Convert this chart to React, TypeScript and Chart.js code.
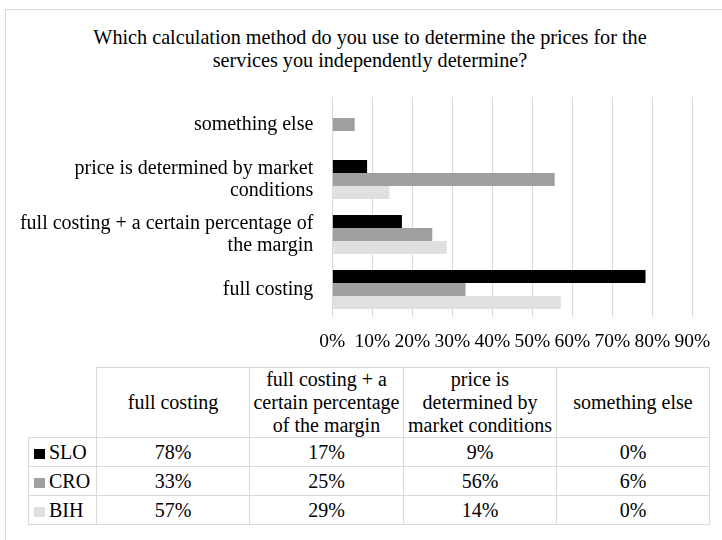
import React, { useEffect, useRef } from "react";
import { Chart, registerables } from "chart.js";

Chart.register(...registerables);

const TITLE_LINES = [
  "Which calculation method do you use to determine the prices for the",
  "services you independently determine?",
];
const CATEGORIES = [
  "full costing",
  "full costing + a certain percentage of the margin",
  "price is determined by market conditions",
  "something else",
];
const AXIS_LABELS = [
  ["full costing"],
  ["full costing + a certain percentage of", "the margin"],
  ["price is determined by market", "conditions"],
  ["something else"],
];
const SERIES = ["SLO", "CRO", "BIH"];
const SLO = [78.3, 17.4, 8.7, 0];
const CRO = [33.3, 25.0, 55.6, 5.6];
const BIH = [57.1, 28.6, 14.3, 0];
const TABLE_SLO = ["78%", "17%", "9%", "0%"];
const TABLE_CRO = ["33%", "25%", "56%", "6%"];
const TABLE_BIH = ["57%", "29%", "14%", "0%"];
const X_MIN = 0;
const X_MAX = 90;
const X_STEP = 10;
const COLORS = ["#000000", "#a0a0a0", "#e0e0e0"];

const FONT = '"Liberation Serif", "Times New Roman", serif';
const BORDER = "1px solid #d9d9d9";

export default function App() {
  const ref = useRef<HTMLCanvasElement | null>(null);

  useEffect(() => {
    if (!ref.current) return;
    const series = [SLO, CRO, BIH];
    const chart = new Chart(ref.current, {
      type: "bar",
      data: {
        labels: AXIS_LABELS.slice().reverse(),
        datasets: SERIES.map((name, i) => ({
          label: name,
          data: series[i].slice().reverse(),
          backgroundColor: COLORS[i],
          borderWidth: 0,
          categoryPercentage: 0.71,
          barPercentage: 1,
        })),
      },
      options: {
        indexAxis: "y",
        responsive: false,
        animation: false,
        devicePixelRatio: 1,
        layout: { padding: { top: 97, right: 29.7, bottom: 0, left: 0 } },
        plugins: {
          legend: { display: false },
          title: { display: false },
          tooltip: { enabled: false },
        },
        scales: {
          x: {
            type: "linear",
            min: X_MIN,
            max: X_MAX,
            ticks: {
              stepSize: X_STEP,
              autoSkip: false,
              maxRotation: 0,
              padding: 13,
              color: "#000",
              font: { family: FONT, size: 19.5 },
              callback: (v: any) => v + "%",
            },
            grid: { color: "#d9d9d9", lineWidth: 1, drawTicks: false },
            border: { display: false },
            afterFit: (s: any) => {
              s.height = 43;
              s.paddingLeft = 0;
              s.paddingRight = 0;
            },
          },
          y: {
            type: "category",
            ticks: {
              padding: 19,
              color: "#000",
              font: { family: FONT, size: 20, lineHeight: 1.1 },
            },
            grid: { display: false, drawTicks: false },
            border: { display: false },
            afterFit: (s: any) => {
              s.width = 332.3;
              s.paddingTop = 0;
              s.paddingBottom = 0;
            },
          },
        },
      },
    });
    return () => chart.destroy();
  }, []);

  const rows = [TABLE_SLO, TABLE_CRO, TABLE_BIH];
  const cellBase: React.CSSProperties = {
    border: BORDER,
    textAlign: "center",
    verticalAlign: "middle",
    padding: 0,
    lineHeight: "23px",
  };

  return (
    <div
      style={{
        position: "fixed",
        left: 0,
        top: 0,
        width: 722,
        height: 540,
        overflow: "hidden",
        background: "#fff",
        fontFamily: FONT,
        color: "#000",
      }}
    >
      <div
        style={{
          position: "absolute",
          left: 5,
          top: 9,
          width: 730,
          height: 600,
          border: BORDER,
          boxSizing: "border-box",
        }}
      />
      <div
        style={{
          position: "absolute",
          left: 5,
          top: 26,
          width: 730,
          textAlign: "center",
          fontSize: 20.2,
          lineHeight: "23px",
        }}
      >
        {TITLE_LINES.map((t, i) => (
          <div key={i}>{t}</div>
        ))}
      </div>
      <canvas
        ref={ref}
        width={722}
        height={360}
        style={{ position: "absolute", left: 0, top: 0, width: 722, height: 360 }}
      />
      <table
        style={{
          position: "absolute",
          left: 28,
          top: 367,
          borderCollapse: "collapse",
          tableLayout: "fixed",
          fontSize: 20,
          fontFamily: FONT,
          width: 681,
        }}
      >
        <colgroup>
          <col style={{ width: 68 }} />
          <col style={{ width: 153 }} />
          <col style={{ width: 154 }} />
          <col style={{ width: 153 }} />
          <col style={{ width: 153 }} />
        </colgroup>
        <tbody>
          <tr style={{ height: 70 }}>
            <td style={{ border: "none", padding: 0 }} />
            {CATEGORIES.map((c, i) => (
              <td key={i} style={{ ...cellBase, padding: 0 }}>
                {c}
              </td>
            ))}
          </tr>
          {SERIES.map((s, r) => (
            <tr key={s} style={{ height: 29 }}>
              <td style={{ ...cellBase, textAlign: "left", paddingLeft: 5, whiteSpace: "nowrap" }}>
                <span
                  style={{
                    display: "inline-block",
                    width: 11,
                    height: 10,
                    background: COLORS[r],
                    marginRight: 4,
                    verticalAlign: "0px",
                  }}
                />
                {s}
              </td>
              {rows[r].map((v, i) => (
                <td key={i} style={cellBase}>
                  {v}
                </td>
              ))}
            </tr>
          ))}
        </tbody>
      </table>
    </div>
  );
}
